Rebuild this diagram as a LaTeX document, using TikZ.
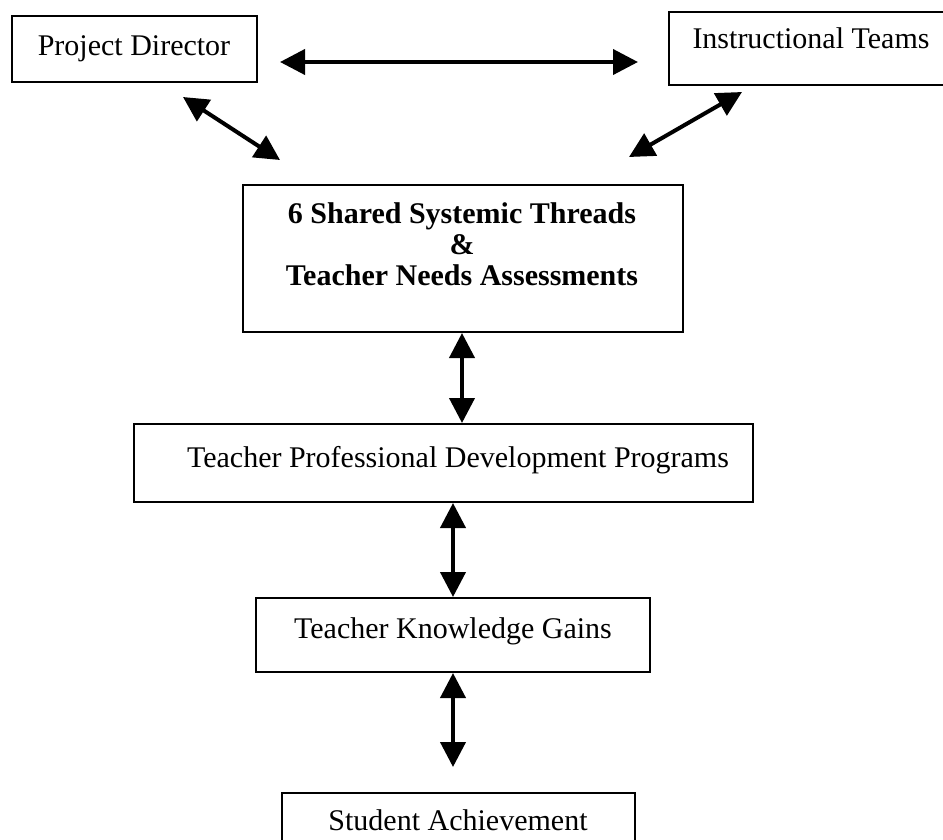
\documentclass[tikz,border=0pt]{standalone}
\usepackage{fontspec}
\setmainfont{Liberation Serif}
\usetikzlibrary{arrows.meta}
\begin{document}
\begin{tikzpicture}[x=1pt,y=-1pt,
  box/.style={draw, line width=2pt, inner sep=0pt},
  lbl/.style={font=\fontsize{30}{31}\selectfont, inner sep=0pt, align=center},
  head/.style={Triangle[length=25pt,width=25pt]},
  dbl/.style={line width=4pt, {Triangle[length=25pt,width=25pt]}-{Triangle[length=25pt,width=25pt]}}
]
\useasboundingbox (0,0) rectangle (943,839);
\clip (0,0) rectangle (943,839);

% boxes
\node[box, minimum width=245pt, minimum height=66pt] (pd)  at (134.5,49)  {};
\node[box, minimum width=284pt, minimum height=73pt] (it)  at (811,48.5)  {};
\node[box, minimum width=440pt, minimum height=147pt] (sh) at (463,258.5) {};
\node[box, minimum width=619pt, minimum height=78pt] (tpd) at (443.5,463) {};
\node[box, minimum width=394pt, minimum height=74pt] (tkg) at (453,635)   {};
\node[box, minimum width=353pt, minimum height=74pt] (sa)  at (458.5,830) {};

% labels
\node[lbl, anchor=base] (pdt)  at (134,55)  {Project Director};
\node[lbl, anchor=base] (itt)  at (811,48)  {Instructional Teams};
\node[lbl, font=\fontsize{30}{31}\selectfont\bfseries] (sht) at (462,244)
  {6 Shared Systemic Threads\\ \&\\ Teacher Needs Assessments};
\node[lbl, anchor=base] (tpdt) at (458,467) {Teacher Professional Development Programs};
\node[lbl, anchor=base] (tkgt) at (453,638) {Teacher Knowledge Gains};
\node[lbl, anchor=base] (sat)  at (458,830) {Student Achievement};

% free arrow ends
\coordinate (h1) at (280,62);
\coordinate (h2) at (638,62);
\coordinate (dl1) at (183,97);
\coordinate (dl2) at (280,160);
\coordinate (dr1) at (742,92);
\coordinate (dr2) at (629,157);
\coordinate (v3) at (453,767);

% connectors
\draw[dbl] (h1) -- (h2);
\draw[dbl] (dl1) -- (dl2);
\draw[dbl] (dr1) -- (dr2);
\draw[dbl] ([xshift=-1pt]sh.south) -- ([xshift=-1pt]sh.south |- tpd.north);
\draw[dbl] (tkg.north |- tpd.south) -- (tkg.north);
\draw[dbl] (tkg.south) -- (v3);
\end{tikzpicture}
\end{document}
